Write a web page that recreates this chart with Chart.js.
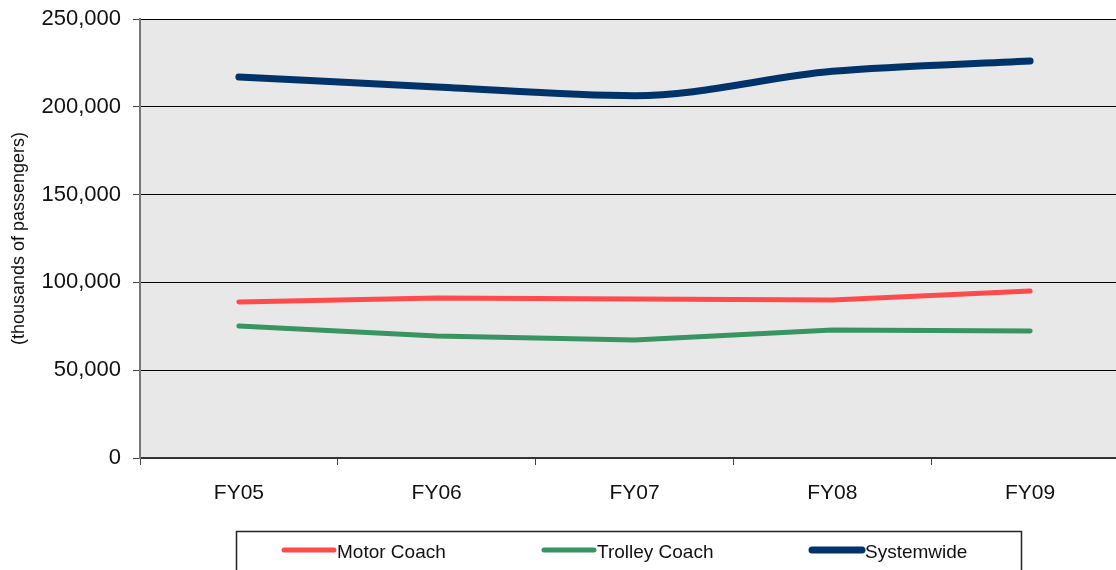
<!DOCTYPE html>
<html>
<head>
<meta charset="utf-8">
<script src="https://cdn.jsdelivr.net/npm/chart.js@4/dist/chart.umd.min.js"></script>
<style>
  html, body { margin: 0; padding: 0; background: #fff; overflow: hidden; }
  #wrap { position: relative; width: 1129px; height: 570px; }
</style>
</head>
<body>
<div id="wrap"><canvas id="ridership"></canvas></div>
<script>
const years = ['FY05', 'FY06', 'FY07', 'FY08', 'FY09'];
const motorCoach = [88800, 91100, 90500, 90000, 95100];
const trolleyCoach = [75200, 69500, 67200, 72900, 72300];
const systemwide = [217000, 211300, 206300, 220200, 226100];
const yTicks = [0, 50000, 100000, 150000, 200000, 250000];

const fmt = (v) => new Intl.NumberFormat('en-US').format(v);

// grey plot background
const plotBg = {
    id: 'plotBg',
    beforeDraw(chart) {
        const a = chart.chartArea, c = chart.ctx;
        c.save();
        c.fillStyle = '#e8e8e8';
        c.fillRect(a.left, a.top, a.right - a.left, a.bottom - a.top);
        c.restore();
    }
};

// boxed legend at the bottom
const boxLegend = {
    id: 'boxLegend',
    afterDraw(chart) {
        const c = chart.ctx;
        const starts = [284, 544, 812];
        c.save();
        c.strokeStyle = '#222';
        c.lineWidth = 1.5;
        c.strokeRect(236.5, 531.5, 785, 60);
        c.font = '19px "Liberation Sans", Arial, sans-serif';
        c.textBaseline = 'middle';
        c.fillStyle = '#111';
        chart.data.datasets.forEach((ds, i) => {
            const x = starts[i];
            c.beginPath();
            c.lineCap = 'round';
            c.strokeStyle = ds.borderColor;
            c.lineWidth = ds.borderWidth;
            c.moveTo(x, 550);
            c.lineTo(x + 50, 550);
            c.stroke();
            c.fillText(ds.label, x + 53, 553);
        });
        c.restore();
    }
};

new Chart(document.getElementById('ridership'), {
    type: 'line',
    data: {
        labels: years,
        datasets: [
            {
                label: 'Motor Coach',
                data: motorCoach,
                borderColor: '#ff4b4b',
                borderWidth: 5,
                borderCapStyle: 'round',
                tension: 0,
                pointRadius: 0
            },
            {
                label: 'Trolley Coach',
                data: trolleyCoach,
                borderColor: '#389461',
                borderWidth: 5,
                borderCapStyle: 'round',
                tension: 0,
                pointRadius: 0
            },
            {
                label: 'Systemwide',
                data: systemwide,
                borderColor: '#00336a',
                borderWidth: 7,
                borderCapStyle: 'round',
                tension: 0.4,
                cubicInterpolationMode: 'monotone',
                pointRadius: 0
            }
        ]
    },
    options: {
        responsive: true,
        maintainAspectRatio: false,
        animation: false,
        layout: {
            padding: { top: 19, right: 0, left: 0, bottom: 0 }
        },
        scales: {
            x: {
                offset: true,
                grid: {
                    offset: true,
                    drawOnChartArea: false,
                    drawTicks: true,
                    tickLength: 7,
                    tickColor: '#444',
                    tickWidth: 1
                },
                border: { color: '#333', width: 2 },
                ticks: {
                    color: '#111',
                    padding: 16,
                    font: { family: '"Liberation Sans", Arial, sans-serif', size: 21 }
                },
                afterFit(scale) { scale.height = 112; }
            },
            y: {
                min: 0,
                max: 250000,
                afterBuildTicks(scale) {
                    scale.ticks = yTicks.map(v => ({ value: v }));
                },
                grid: {
                    color: (ctx) => ctx.tick && ctx.tick.value === 0 ? 'rgba(0,0,0,0)' : '#000',
                    lineWidth: 1,
                    tickLength: 7,
                    tickColor: '#444'
                },
                border: { color: '#777', width: 2 },
                ticks: {
                    color: '#111',
                    padding: 12,
                    callback: (v) => fmt(v),
                    font: { family: '"Liberation Sans", Arial, sans-serif', size: 22 }
                },
                title: {
                    display: true,
                    text: '(thousands of passengers)',
                    color: '#111',
                    padding: { top: 8, bottom: 0 },
                    font: { family: '"Liberation Sans", Arial, sans-serif', size: 18 }
                },
                afterFit(scale) {
                    scale.width = 140;
                    scale.paddingTop = 0;
                    scale.paddingBottom = 0;
                }
            }
        },
        plugins: {
            legend: { display: false },
            tooltip: { enabled: false }
        }
    },
    plugins: [plotBg, boxLegend]
});
</script>
</body>
</html>
